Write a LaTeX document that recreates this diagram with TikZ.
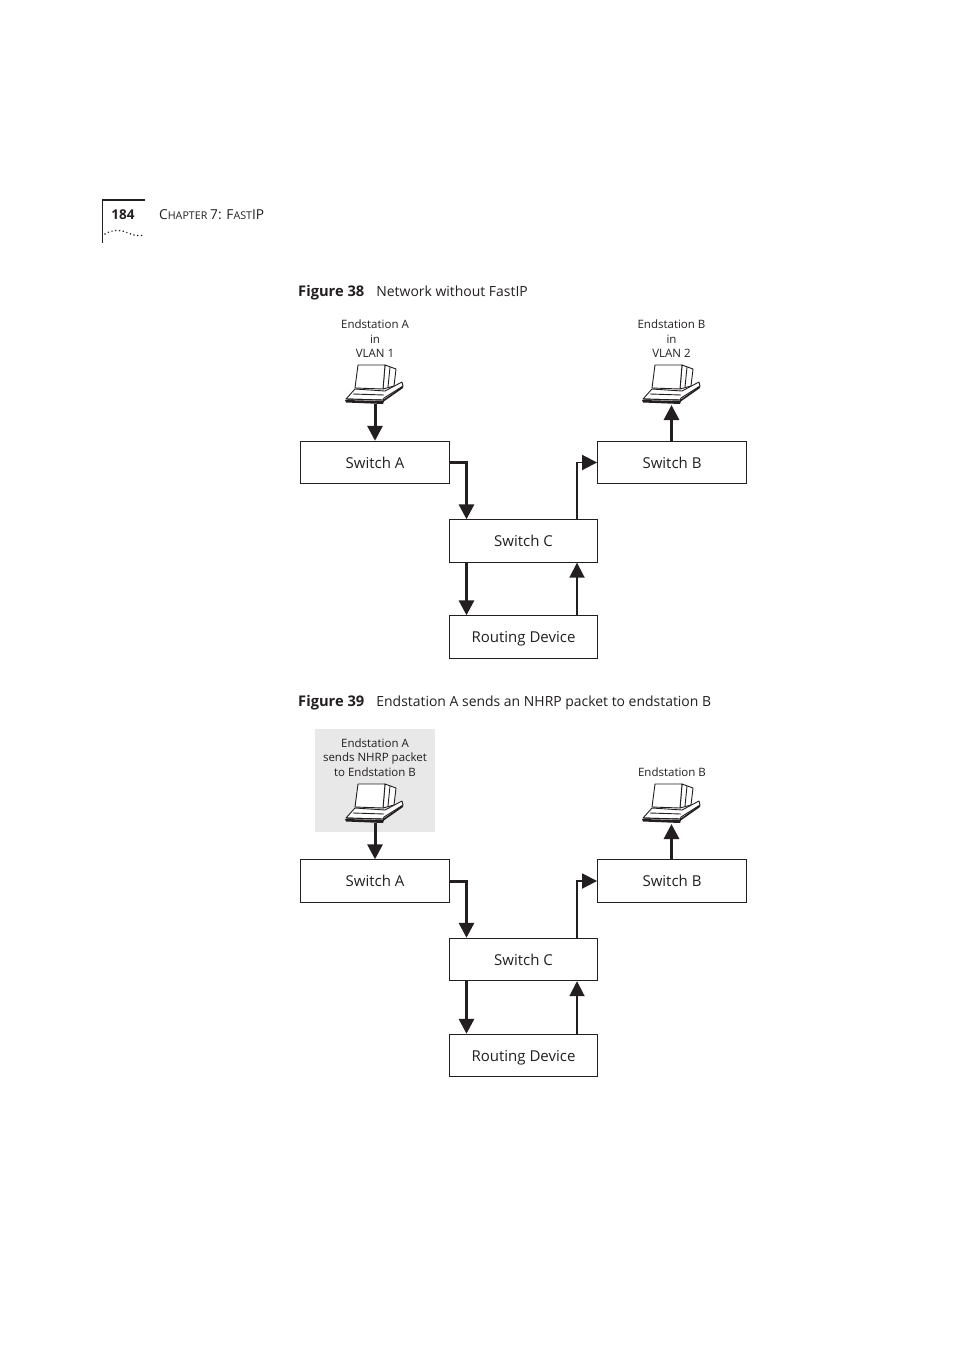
\documentclass[tikz,border=0pt]{standalone}
\usepackage{fontspec}
\setmainfont{Open Sans}
\usetikzlibrary{arrows.meta,calc}
\definecolor{ink}{HTML}{231F20}
\tikzset{
 box/.style={draw=ink,line width=0.9pt,minimum width=149pt,minimum height=42.5pt,inner sep=0pt,font=\fontsize{15}{18}\selectfont,text=ink,anchor=center,text height=13.5pt,text depth=2pt},
 thick arrow/.style={draw=ink,line width=3pt,-{Triangle[length=15pt,width=15pt,fill=ink]}},
 thin arrow/.style={draw=ink,line width=1.9pt,-{Triangle[length=15pt,width=15pt,fill=ink]}},
 caption/.style={anchor=base west,inner sep=0pt,text=ink,font=\fontsize{13.95}{17}\selectfont},
 small/.style={align=center,inner sep=0pt,text=ink,font=\fontsize{11.5}{14.5}\selectfont},
 pcline/.style={draw=ink,line width=0.9pt,fill=white,line join=round}
}
\newcommand{\figlabel}[1]{{\fontsize{14.7}{17}\selectfont\bfseries #1}}
\newcommand{\pcat}[2]{%
 \begin{scope}[shift={(#1,#2)}]
  % base plate
  \draw[pcline] (10,25) -- (40,27) -- (57,18) -- (58,22) -- (39,34) -- (38,36) -- (1,35) -- cycle;
  % monitor back
  \draw[pcline] (40,1) -- (51,5) -- (49,22) -- (38,25) -- cycle;
  \draw[pcline] (45,3) -- (43,23);
  % monitor front
  \draw[pcline] (13,1) -- (40,1) -- (38,25) -- (10,24) -- cycle;
  % keyboard
  \draw[pcline] (8,30) -- (39,31);
  \draw[pcline] (1,35) -- (38,36);
  \fill[ink] (0,36) -- (39,37) -- (38,40) -- (1,38.5) -- cycle;
  \fill[ink] (38,36) -- (58,22) -- (58,24) -- (38,38) -- cycle;
 \end{scope}}
\newcommand{\flow}[2]{%
 \begin{scope}[shift={(0,#2)}]
  \node[box] (swa#1) at (375,462.5) {Switch A};
  \node[box] (swb#1) at (672,462.5) {Switch B};
  \node[box,minimum width=148pt] (swc#1) at (523.5,541) {Switch C};
  \node[box,minimum width=148pt] (rd#1) at (523.5,637) {Routing Device};
  \coordinate (a1#1) at (466.5,462.5);
  \coordinate (c1#1) at (577,462.5);
  \draw[thick arrow] (swa#1.east) -- (a1#1) -- (a1#1 |- swc#1.north);
  \draw[thin arrow] (c1#1 |- swc#1.north) -- (c1#1) -- (swb#1.west);
  \draw[thick arrow] (a1#1 |- swc#1.south) -- (a1#1 |- rd#1.north);
  \draw[thin arrow] (c1#1 |- rd#1.north) -- (c1#1 |- swc#1.south);
 \end{scope}}
\begin{document}
\begin{tikzpicture}[x=1pt,y=-1pt]
\useasboundingbox (0,0) rectangle (954,1351);
\fill[white] (0,0) rectangle (954,1351);
% page header
\draw[ink,line width=1.6pt] (102.5,243) -- (102.5,200) -- (145,200);
\draw[ink,line width=1.7pt,line cap=round,dash pattern=on 0pt off 3.8pt] (105,234) .. controls (113,229) and (122,230) .. (128,233) .. controls (134,236) and (140,236) .. (145,235);
\node[anchor=base,inner sep=0pt,text=ink,font=\fontsize{13.5}{16}\selectfont\bfseries] (pg) at (123,219) {184};
\node[anchor=base west,inner sep=0pt,text=ink,font=\fontsize{13.7}{16}\selectfont] (hd) at (159,219) {C\fontsize{10.7}{12}\selectfont HAPTER \fontsize{13.7}{16}\selectfont 7: F\fontsize{10.7}{12}\selectfont AST\fontsize{13.7}{16}\selectfont IP};
% captions
\node[caption] (cap38) at (298,296) {\figlabel{Figure 38}\hspace{12pt}Network without FastIP};
\node[caption] (cap39) at (298,706.5) {\figlabel{Figure 39}\hspace{12pt}Endstation A sends an NHRP packet to endstation B};
% grey panel
\fill[black!9] (315,729) rectangle (435,832);
% diagrams
\flow{P}{0}
\flow{Q}{418.5}
% computers
\pcat{345}{364}
\pcat{642}{364}
\pcat{345}{783}
\pcat{642}{783}
% computer links
\coordinate (pa0) at (375,404);
\coordinate (pb0) at (671.5,405);
\coordinate (pa1) at (375,823);
\coordinate (pb1) at (671.5,824);
\draw[thick arrow] (pa0) -- (pa0 |- swaP.north);
\draw[thick arrow] (pb0 |- swbP.north) -- (pb0);
\draw[thick arrow] (pa1) -- (pa1 |- swaQ.north);
\draw[thick arrow] (pb1 |- swbQ.north) -- (pb1);
% labels
\node[small] (la) at (375,339) {Endstation A\\in\\VLAN 1};
\node[small] (lb) at (671.5,339) {Endstation B\\in\\VLAN 2};
\node[small] (lc) at (375,757.5) {Endstation A\\sends NHRP packet\\to Endstation B};
\node[small] (ld) at (672,772) {Endstation B};
\end{tikzpicture}
\end{document}
